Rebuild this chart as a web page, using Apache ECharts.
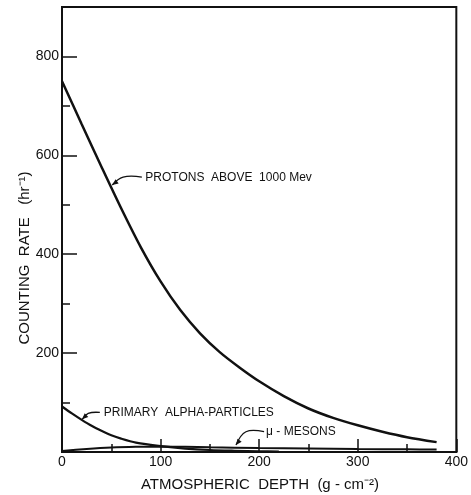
<!DOCTYPE html>
<html><head><meta charset="utf-8">
<script src="https://cdn.jsdelivr.net/npm/echarts@6/dist/echarts.min.js"></script>
<style>html,body{margin:0;padding:0;background:#fff}#c{width:471px;height:495px}</style>
</head><body><div id="c"></div>
<script>
// ---- data ----
const protonDepth = [0, 20, 40, 60, 80, 100, 120, 140, 160, 180, 200, 225, 250, 275, 300, 325, 350, 380];
const protonRate  = [750, 663, 577, 493, 414, 345, 287, 240, 202, 171, 143, 113, 88, 69, 54, 41, 30, 20];
const alphaDepth  = [0, 10, 20, 30, 40, 50, 60, 75, 100, 125, 150, 175, 200, 220];
const alphaRate   = [92, 78, 65, 53, 43, 34, 27, 19, 12, 7, 4, 2.5, 1.5, 1];
const mesonDepth  = [0, 25, 50, 75, 100, 125, 150, 200, 250, 300, 350, 380];
const mesonRate   = [2, 6, 9, 10.5, 11, 10.5, 9.5, 8, 7, 6, 5.5, 5];
const xTickLabels = [0, 100, 200, 300, 400];
const yTickLabels = [200, 400, 600, 800];
const xTitle = 'ATMOSPHERIC  DEPTH  (g - cm\u207B\u00B2)';
const yTitle = 'COUNTING  RATE   (hr\u207B\u00B9)';
const labelProtons = 'PROTONS  ABOVE  1000 Mev';
const labelAlpha = 'PRIMARY  ALPHA-PARTICLES';
const labelMeson = '\u03BC - MESONS';

const pairs = (xs, ys) => xs.map((x, i) => [x, ys[i]]);
const INK = '#111';
const FONT = 'Liberation Sans, Arial, sans-serif';

const chart = echarts.init(document.getElementById('c'), null, {renderer: 'canvas'});
const lineSeries = (name, xs, ys, w) => ({
  name, type: 'line', data: pairs(xs, ys), showSymbol: false, symbol: 'none',
  smooth: 0.3, lineStyle: {color: INK, width: w}, itemStyle: {color: INK}, z: 3
});
chart.setOption({
  animation: false,
  backgroundColor: '#fff',
  grid: {left: 62, right: 13, top: 7, bottom: 43, show: true, borderColor: INK, borderWidth: 2, backgroundColor: 'transparent'},
  xAxis: {
    type: 'value', min: 0, max: 400, interval: 100,
    axisLine: {show: true, lineStyle: {color: INK, width: 2}},
    axisTick: {show: true, inside: true, length: 13, lineStyle: {color: INK, width: 1.5}},
    minorTick: {show: true, splitNumber: 2, length: 8, lineStyle: {color: INK, width: 1.5}},
    splitLine: {show: false}, minorSplitLine: {show: false},
    axisLabel: {fontSize: 14, color: INK, fontFamily: FONT, margin: 3,
      formatter: v => xTickLabels.includes(v) ? String(v) : ''}
  },
  yAxis: [{
    type: 'value', min: 0, max: 900, interval: 100,
    axisLine: {show: true, lineStyle: {color: INK, width: 2}},
    axisTick: {show: true, inside: true, length: 8, lineStyle: {color: INK, width: 1.5}},
    splitLine: {show: false}, axisLabel: {show: false}
  }, {
    type: 'value', min: 0, max: 900, interval: 200, position: 'left', offset: 0,
    axisLine: {show: false},
    axisTick: {show: true, inside: true, length: 15, lineStyle: {color: INK, width: 1.5}},
    splitLine: {show: false},
    axisLabel: {fontSize: 14, color: INK, fontFamily: FONT, margin: 3,
      formatter: v => yTickLabels.includes(v) ? String(v) : ''}
  }],
  series: [
    lineSeries('protons', protonDepth, protonRate, 2.5),
    lineSeries('alpha', alphaDepth, alphaRate, 2.2),
    lineSeries('mesons', mesonDepth, mesonRate, 2)
  ]
});

// ---- annotations (anchored in data coordinates) ----
const px = p => chart.convertToPixel({xAxisIndex: 0, yAxisIndex: 0}, p);
const annotations = [
  {text: labelProtons, tip: [51, 540], bend: [62, 556], end: [81, 556], at: [84.5, 555]},
  {text: labelAlpha, tip: [20.5, 66], bend: [26.6, 78], end: [38.4, 80], at: [42.4, 79]},
  {text: labelMeson, tip: [176.5, 14], bend: [186.6, 41], end: [205, 41], at: [207, 41]}
];
const graphics = [];
annotations.forEach(a => {
  const t = px(a.tip), b = px(a.bend), e = px(a.end), s = px(a.at);
  graphics.push({type: 'polyline', shape: {points: [e, b, t], smooth: 0.4},
    style: {stroke: INK, lineWidth: 1.3, fill: null}, z: 10});
  let dx = t[0] - b[0], dy = t[1] - b[1];
  const L = Math.hypot(dx, dy); dx /= L; dy /= L;
  const bx = t[0] - dx * 6, by = t[1] - dy * 6;
  graphics.push({type: 'polygon', shape: {points: [t, [bx - dy * 2.6, by + dx * 2.6], [bx + dy * 2.6, by - dx * 2.6]]},
    style: {fill: INK}, z: 10});
  graphics.push({type: 'text', x: s[0], y: s[1],
    style: {text: a.text, fontSize: 12, fontFamily: FONT, fill: INK, align: 'left', verticalAlign: 'middle'}, z: 10});
});
graphics.push({type: 'text', x: 260, y: 485,
  style: {text: xTitle, fontSize: 15, fontFamily: FONT, fill: INK, align: 'center', verticalAlign: 'middle'}});
graphics.push({type: 'text', x: 25, y: 258, rotation: Math.PI / 2,
  style: {text: yTitle, fontSize: 15, fontFamily: FONT, fill: INK, align: 'center', verticalAlign: 'middle'}});
chart.setOption({graphic: graphics});
</script>
</body></html>
